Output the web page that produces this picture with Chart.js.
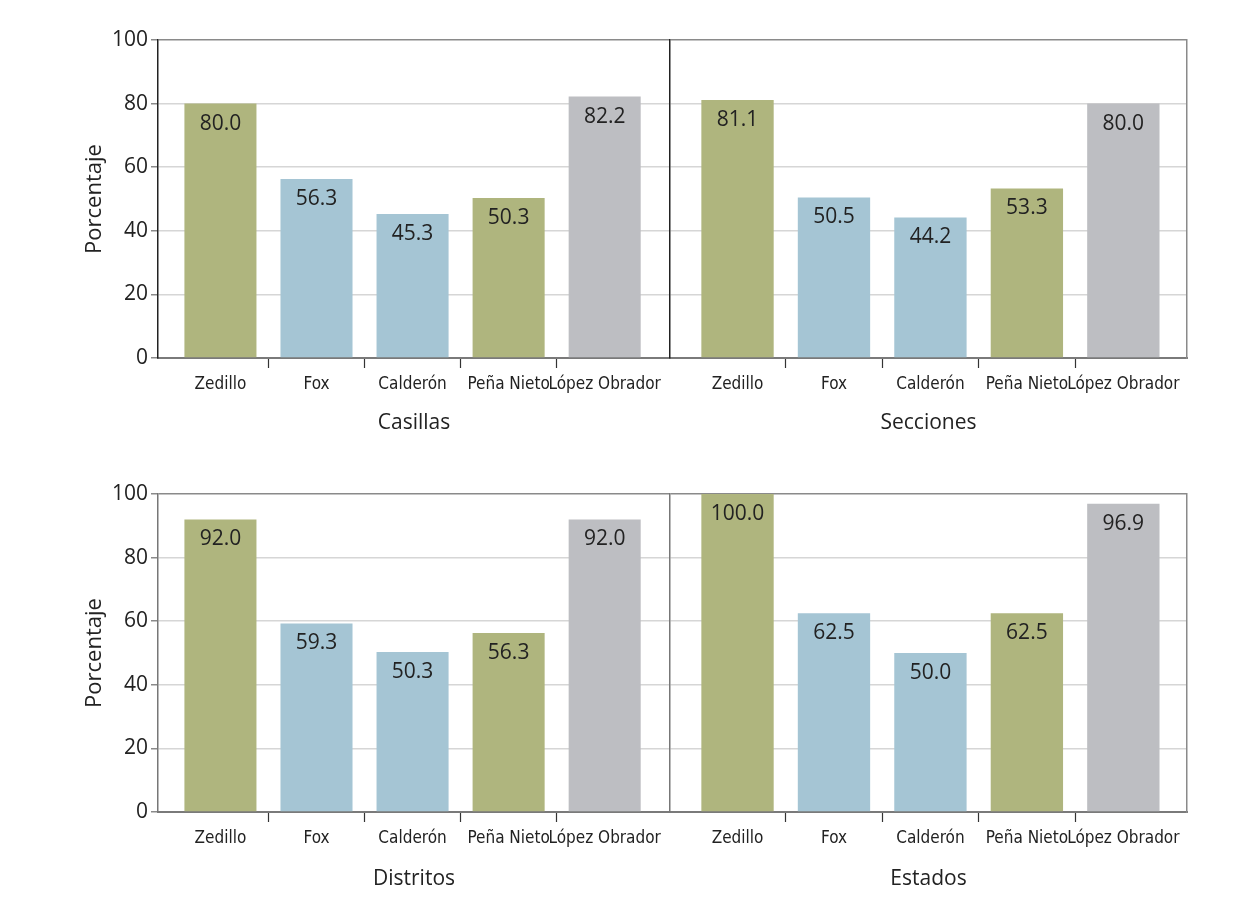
<!DOCTYPE html>
<html>
<head>
<meta charset="utf-8">
<script src="https://cdn.jsdelivr.net/npm/chart.js@4"></script>
<style>
  body{margin:0;background:#fff;}
  canvas{position:absolute;}
  #casillas{left:0;top:0;}
  #secciones{left:660px;top:0;}
  #distritos{left:0;top:454px;}
  #estados{left:660px;top:454px;}
</style>
</head>
<body>
<canvas id="casillas" width="670" height="453"></canvas>
<canvas id="secciones" width="593" height="453"></canvas>
<canvas id="distritos" width="670" height="452"></canvas>
<canvas id="estados" width="593" height="452"></canvas>
<script>
//Data
const presidents = ['Zedillo','Fox','Calderón','Peña Nieto','López Obrador'];
const casillas = [80.0,56.3,45.3,50.3,82.2];
const secciones = [81.1,50.5,44.2,53.3,80.0];
const distritos = [92.0,59.3,50.3,56.3,92.0];
const estados = [100.0,62.5,50.0,62.5,96.9];
const yTicks = [0,20,40,60,80,100];

const green = '#afb57e';
const blue = '#a5c5d4';
const grey = '#bdbec2';
const partyColors = [green,blue,blue,green,grey];

const mainFont = "'Open Sans','Noto Sans',sans-serif";
const narrowFont = "'Liberation Sans Narrow','DejaVu Sans Condensed',sans-serif";
const clear = 'rgba(0,0,0,0)';

//value labels inside the top of each bar
const valueLabels = {
    id:'valueLabels',
    afterDatasetsDraw(chart){
        const ctx = chart.ctx;
        const meta = chart.getDatasetMeta(0);
        const data = chart.data.datasets[0].data;
        ctx.save();
        ctx.font = '21px ' + mainFont;
        ctx.fillStyle = '#222';
        ctx.textAlign = 'center';
        ctx.textBaseline = 'middle';
        meta.data.forEach((bar,i)=>{
            ctx.fillText(data[i].toFixed(1), bar.x, bar.y + 20);
        });
        ctx.restore();
    }
};

// p: showY, leftBorder, rightBorder, padLeft, padRight, padBottom, axisH, marginL, marginR
function makePanel(id, name, values, p){
    return new Chart(document.getElementById(id),{
        type:'bar',
        data:{
            labels: presidents,
            datasets:[{
                data: values,
                backgroundColor: partyColors,
                barPercentage: 0.75,
                categoryPercentage: 1
            }]
        },
        options:{
            responsive:false,
            animation:false,
            layout:{padding:{left:p.padLeft,right:p.padRight,top:40,bottom:p.padBottom}},
            plugins:{legend:{display:false},tooltip:{enabled:false}},
            scales:{
                x:{
                    z:1,
                    offset:true,
                    // a little room between the panel edge and the outer bars
                    afterBuildTicks:(s)=>{
                        s._startValue -= p.marginL;
                        s._valueRange += p.marginL + p.marginR;
                    },
                    grid:{
                        offset:true,
                        color:clear,
                        tickColor:(c)=> (c.index===0 || c.index===undefined) ? clear : '#333',
                        tickLength:10,
                        tickWidth:1.2
                    },
                    border:{color:'#7a7a7a',width:2},
                    ticks:{
                        autoSkip:false,
                        maxRotation:0,
                        padding:6,
                        color:'#222',
                        font:{family:narrowFont,size:17}
                    },
                    title:{
                        display:true,
                        text:name,
                        color:'#222',
                        font:{family:mainFont,size:21}
                    },
                    afterFit:(s)=>{ s.height = p.axisH; }
                },
                y:{
                    min:0,
                    max:100,
                    afterBuildTicks:(s)=>{ s.ticks = yTicks.map(v=>({value:v})); },
                    grid:{
                        color:(c)=>{
                            if(c.tick && c.tick.value===100) return '#8a8a8a';
                            if(c.tick && c.tick.value===0) return clear;
                            return '#d6d6d6';
                        },
                        lineWidth:1.5,
                        drawTicks:p.showY,
                        tickColor:'#8a8a8a',
                        tickLength:7
                    },
                    border:{color:p.leftBorder,width:1.5},
                    ticks:{
                        display:p.showY,
                        padding:3,
                        color:'#222',
                        font:{family:mainFont,size:21}
                    },
                    title:{
                        display:p.showY,
                        text:'Porcentaje',
                        color:'#222',
                        font:{family:mainFont,size:22}
                    },
                    afterFit:(s)=>{ s.width = p.showY ? 80 : 0; }
                },
                edge:{
                    type:'linear',
                    position:'right',
                    display:p.rightBorder ? true : false,
                    min:0,
                    max:100,
                    grid:{drawOnChartArea:false,drawTicks:false},
                    border:{color:'#8a8a8a',width:1.5},
                    ticks:{display:false},
                    afterFit:(s)=>{ s.width = 0; }
                }
            }
        },
        plugins:[valueLabels]
    });
}

makePanel('casillas','Casillas',casillas,
    {showY:true,leftBorder:'#222',rightBorder:false,padLeft:78,padRight:0,padBottom:13,axisH:82,marginL:0.15,marginR:0.18});
makePanel('secciones','Secciones',secciones,
    {showY:false,leftBorder:'#222',rightBorder:true,padLeft:10,padRight:66,padBottom:13,axisH:82,marginL:0.2,marginR:0.16});
makePanel('distritos','Distritos',distritos,
    {showY:true,leftBorder:'#777',rightBorder:false,padLeft:78,padRight:0,padBottom:10,axisH:84,marginL:0.15,marginR:0.18});
makePanel('estados','Estados',estados,
    {showY:false,leftBorder:'#777',rightBorder:true,padLeft:10,padRight:66,padBottom:10,axisH:84,marginL:0.2,marginR:0.16});
</script>
</body>
</html>
